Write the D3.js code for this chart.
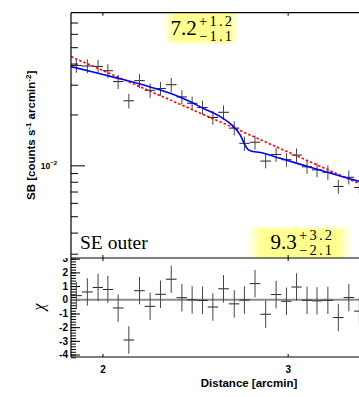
<!DOCTYPE html>
<html>
<head>
<meta charset="utf-8">
<script src="https://cdn.jsdelivr.net/npm/d3@7"></script>
<style>
  body { margin: 0; background: #fff; }
  svg { display: block; }
</style>
</head>
<body>
<div id="chart"></div>
<script>
// radial bins [arcmin]
const radius = [1.889, 1.935, 1.981, 2.024, 2.070, 2.119, 2.169, 2.220, 2.271, 2.325,
  2.380, 2.434, 2.490, 2.547, 2.607, 2.669, 2.729, 2.793, 2.859, 2.925,
  2.992, 3.059, 3.130, 3.199, 3.276, 3.352, 3.430, 3.510]

// surface brightness [counts s^-1 arcmin^-2] and 1 sigma errors
const sb = [0.0390, 0.0387, 0.0385, 0.0363, 0.0313, 0.0241, 0.0317, 0.0278, 0.0285, 0.0300,
  0.0254, 0.0233, 0.0220, 0.0192, 0.0206, 0.0166, 0.0135, 0.0137, 0.0106, 0.0116,
  0.0108, 0.0115, 0.0098, 0.0094, 0.0091, 0.0075, 0.0085, 0.0074]
const sbErr = [0.0037, 0.0037, 0.0036, 0.0034, 0.0030, 0.0024, 0.0030, 0.0027, 0.0027, 0.0029,
  0.0024, 0.0022, 0.0021, 0.0018, 0.0020, 0.0016, 0.0013, 0.0013, 0.0010, 0.0011,
  0.0010, 0.0011, 0.0009, 0.0009, 0.0009, 0.0007, 0.0008, 0.0007]

// residuals
const chi = [0.30, 0.57, 0.90, 0.75, -0.60, -2.94, 0.66, -0.48, 0.40, 1.50,
  0.15, -0.01, -0.05, -0.53, 0.80, -0.30, -0.02, 1.18, -1.06, 0.38,
  -0.11, 0.93, -0.04, -0.08, -0.04, -1.30, 0.16, -0.83]

// broken power law model (blue)
const modelR = [1.867, 1.968, 2.071, 2.220, 2.320, 2.424, 2.495, 2.589, 2.656, 2.705,
  2.728, 2.748, 2.764, 2.826, 2.952, 3.176, 3.518, 4.07]
const modelSB = [0.0384, 0.0354, 0.0327, 0.0291, 0.0267, 0.0238, 0.0217, 0.0194, 0.0173, 0.0151,
  0.0135, 0.0125, 0.0122, 0.0119, 0.0110, 0.0096, 0.0080, 0.0061]

// single power law (red dashed)
const plR = [1.867, 2.665, 4.07]
const plSB = [0.0440, 0.0167, 0.00516]

const xTicks = [2, 3]
const sbMajor = [0.01]
const sbMinor = [0.003, 0.004, 0.005, 0.006, 0.007, 0.008, 0.009, 0.02, 0.03, 0.04, 0.05, 0.06, 0.07]
const chiMajor = [-4, -3, -2, -1, 0, 1, 2, 3]
const chiMinor = d3.range(-42, 31, 2).map(d => d / 10)

const width = 359
const height = 397
const frame = { left: 71, right: 427, top: 12.7, mid: 258, bottom: 357 }

const sans = '"Liberation Sans", Arial, sans-serif'
const serif = '"Liberation Serif", "Times New Roman", serif'

const svg = d3
  .select('#chart')
  .append('svg')
  .attr('width', width)
  .attr('height', height)

const defs = svg.append('defs')
defs.append('clipPath').attr('id', 'clip-top')
  .append('rect').attr('x', frame.left).attr('y', frame.top)
  .attr('width', frame.right - frame.left).attr('height', frame.mid - frame.top)
defs.append('clipPath').attr('id', 'clip-bot')
  .append('rect').attr('x', frame.left).attr('y', frame.mid)
  .attr('width', frame.right - frame.left).attr('height', frame.bottom - frame.mid)

const glow = defs.append('linearGradient').attr('id', 'glow')
glow.append('stop').attr('offset', '0%').attr('stop-color', '#ffff90').attr('stop-opacity', 0)
glow.append('stop').attr('offset', '14%').attr('stop-color', '#ffff90').attr('stop-opacity', 1)
glow.append('stop').attr('offset', '86%').attr('stop-color', '#ffff90').attr('stop-opacity', 1)
glow.append('stop').attr('offset', '100%').attr('stop-color', '#ffff90').attr('stop-opacity', 0)
defs.append('filter').attr('id', 'soft')
  .append('feGaussianBlur').attr('stdDeviation', 1.5)

const x = d3.scaleLog().domain([1.867, 4.07]).range([frame.left, frame.right])
const y = d3.scaleLog().domain([0.00283, 0.08]).range([frame.mid, frame.top])
const yChi = d3.scaleLinear().domain([-4.18, 3.05]).range([frame.bottom, frame.mid])

const n = radius.length
const binLo = radius.map((r, i) => i > 0 ? Math.sqrt(r * radius[i - 1]) : r / Math.sqrt(radius[1] / r))
const binHi = radius.map((r, i) => i < n - 1 ? Math.sqrt(r * radius[i + 1]) : r * Math.sqrt(r / radius[n - 2]))

function styleAxis(g, size) {
  g.select('.domain').remove()
  g.selectAll('.tick line').attr('stroke', '#000').attr('stroke-width', 1)
  g.selectAll('.tick text')
    .attr('font-family', sans)
    .attr('font-weight', 'bold')
    .attr('font-size', size)
    .attr('fill', '#000')
}

// ---------- lower panel (residuals) ----------
const lower = svg.append('g')

lower.append('g')
  .attr('transform', 'translate(' + frame.left + ',0)')
  .call(d3.axisLeft(yChi).tickValues(chiMinor).tickSize(-5).tickFormat(''))
  .call(g => styleAxis(g, 10))

lower.append('g')
  .attr('transform', 'translate(' + frame.left + ',0)')
  .call(d3.axisLeft(yChi).tickValues(chiMajor).tickSizeInner(-9).tickSizeOuter(0).tickPadding(3).tickFormat(d => String(d)))
  .call(g => styleAxis(g, 10))

lower.append('g')
  .attr('transform', 'translate(0,' + frame.bottom + ')')
  .call(d3.axisBottom(x).tickValues(xTicks).tickSizeInner(-3).tickSizeOuter(0).tickPadding(9).tickFormat(d3.format('d')))
  .call(g => styleAxis(g, 10))

lower.append('g')
  .attr('transform', 'translate(0,' + frame.mid + ')')
  .call(d3.axisTop(x).tickValues(xTicks).tickSizeInner(-3).tickSizeOuter(0).tickFormat(''))
  .call(g => styleAxis(g, 10))

const lowerPlot = lower.append('g').attr('clip-path', 'url(#clip-bot)')

lowerPlot.append('line')
  .attr('x1', frame.left).attr('x2', frame.right)
  .attr('y1', yChi(0)).attr('y2', yChi(0))
  .attr('stroke', '#8c8c8c')
  .attr('stroke-width', 2)

const chiPts = lowerPlot.selectAll('.chi')
  .data(radius.map((r, i) => ({ r: r, lo: binLo[i], hi: binHi[i], v: chi[i] })))
  .enter()
  .append('g')
  .attr('class', 'chi')

chiPts.append('line')
  .attr('x1', d => x(d.lo)).attr('x2', d => x(d.hi))
  .attr('y1', d => yChi(d.v)).attr('y2', d => yChi(d.v))
  .attr('stroke', '#222').attr('stroke-width', 1)
chiPts.append('line')
  .attr('x1', d => x(d.r)).attr('x2', d => x(d.r))
  .attr('y1', d => yChi(d.v - 1)).attr('y2', d => yChi(d.v + 1))
  .attr('stroke', '#444').attr('stroke-width', 1)

lower.append('line')
  .attr('x1', frame.left).attr('x2', frame.right)
  .attr('y1', frame.bottom).attr('y2', frame.bottom)
  .attr('stroke', '#000').attr('stroke-width', 1.2)
lower.append('line')
  .attr('x1', frame.left).attr('x2', frame.left)
  .attr('y1', frame.mid).attr('y2', frame.bottom)
  .attr('stroke', '#000').attr('stroke-width', 1.2)

lower.append('text')
  .attr('transform', 'translate(44,307) rotate(-90)')
  .attr('text-anchor', 'middle')
  .attr('font-family', serif)
  .attr('font-style', 'italic')
  .attr('font-size', 16)
  .text('χ')

lower.append('text')
  .attr('x', (frame.left + frame.right) / 2)
  .attr('y', 387)
  .attr('text-anchor', 'middle')
  .attr('font-family', sans)
  .attr('font-weight', 'bold')
  .attr('font-size', 11.5)
  .text('Distance [arcmin]')

// ---------- upper panel (surface brightness) ----------
const upper = svg.append('g')

upper.append('rect')
  .attr('x', 0).attr('y', 0)
  .attr('width', width).attr('height', frame.mid)
  .attr('fill', '#fff')

const upperPlot = upper.append('g').attr('clip-path', 'url(#clip-top)')

upperPlot.append('rect')
  .attr('x', 164).attr('y', 8).attr('width', 76).attr('height', 35)
  .attr('fill', 'url(#glow)').attr('filter', 'url(#soft)')
upperPlot.append('rect')
  .attr('x', 247).attr('y', 228).attr('width', 106).attr('height', 34)
  .attr('fill', 'url(#glow)').attr('filter', 'url(#soft)')

upper.append('g')
  .attr('transform', 'translate(' + frame.left + ',0)')
  .call(d3.axisLeft(y).tickValues(sbMinor).tickSize(-7).tickFormat(''))
  .call(g => styleAxis(g, 8.5))

upper.append('g')
  .attr('transform', 'translate(' + frame.left + ',0)')
  .call(d3.axisLeft(y).tickValues(sbMajor).tickSizeInner(-14).tickSizeOuter(0).tickPadding(14).tickFormat(''))
  .call(g => styleAxis(g, 8.5))
  .call(g => {
    const t = g.selectAll('.tick text')
    t.append('tspan').text('10')
    t.append('tspan').attr('dy', -4).attr('font-size', 6).text('−2')
  })

upper.append('g')
  .attr('transform', 'translate(0,' + frame.top + ')')
  .call(d3.axisTop(x).tickValues(xTicks).tickSizeInner(-3).tickSizeOuter(0).tickFormat(''))
  .call(g => styleAxis(g, 10))

upper.append('g')
  .attr('transform', 'translate(0,' + frame.mid + ')')
  .call(d3.axisBottom(x).tickValues(xTicks).tickSizeInner(-3).tickSizeOuter(0).tickFormat(''))
  .call(g => styleAxis(g, 10))

const sbPts = upperPlot.selectAll('.sb')
  .data(radius.map((r, i) => ({ r: r, lo: binLo[i], hi: binHi[i], v: sb[i], e: sbErr[i] })))
  .enter()
  .append('g')
  .attr('class', 'sb')

sbPts.append('line')
  .attr('x1', d => x(d.lo)).attr('x2', d => x(d.hi))
  .attr('y1', d => y(d.v)).attr('y2', d => y(d.v))
  .attr('stroke', '#222').attr('stroke-width', 1)
sbPts.append('line')
  .attr('x1', d => x(d.r)).attr('x2', d => x(d.r))
  .attr('y1', d => y(d.v - d.e)).attr('y2', d => y(d.v + d.e))
  .attr('stroke', '#444').attr('stroke-width', 1)

const line = d3.line()
  .x(d => x(d[0]))
  .y(d => y(d[1]))

upperPlot.append('path')
  .datum(plR.map((r, i) => [r, plSB[i]]))
  .attr('d', line)
  .attr('fill', 'none')
  .attr('stroke', '#ff0000')
  .attr('stroke-width', 1.6)
  .attr('stroke-dasharray', '2.5,2')

upperPlot.append('path')
  .datum(modelR.map((r, i) => [r, modelSB[i]]))
  .attr('d', line.curve(d3.curveMonotoneX))
  .attr('fill', 'none')
  .attr('stroke', '#0000ff')
  .attr('stroke-width', 1.6)

upper.append('line')
  .attr('x1', frame.left).attr('x2', frame.right)
  .attr('y1', frame.top).attr('y2', frame.top)
  .attr('stroke', '#000').attr('stroke-width', 1.2)
upper.append('line')
  .attr('x1', frame.left).attr('x2', frame.right)
  .attr('y1', frame.mid).attr('y2', frame.mid)
  .attr('stroke', '#000').attr('stroke-width', 1.2)
upper.append('line')
  .attr('x1', frame.left).attr('x2', frame.left)
  .attr('y1', frame.top).attr('y2', frame.mid)
  .attr('stroke', '#000').attr('stroke-width', 1.2)

// annotations
function valueLabel(g, x0, base, main, up, down) {
  g.append('text')
    .attr('x', x0).attr('y', base)
    .attr('font-family', serif).attr('font-size', 21)
    .text(main)
  const sx = x0 + 28.5
  g.append('text')
    .attr('x', sx).attr('y', base - 9)
    .attr('font-family', serif).attr('font-size', 14.5)
    .attr('textLength', 33).attr('lengthAdjust', 'spacing')
    .text(up)
  g.append('text')
    .attr('x', sx).attr('y', base + 5.5)
    .attr('font-family', serif).attr('font-size', 14.5)
    .attr('textLength', 33).attr('lengthAdjust', 'spacing')
    .text(down)
}

valueLabel(upper, 170.5, 35, '7.2', '+1.2', '−1.1')
valueLabel(upper, 270.5, 249, '9.3', '+3.2', '−2.1')

upper.append('text')
  .attr('x', 80).attr('y', 249)
  .attr('font-family', serif)
  .attr('font-size', 19.5)
  .text('SE outer')

const sbTitle = upper.append('text')
  .attr('transform', 'translate(35,' + (frame.top + frame.mid) / 2 + ') rotate(-90)')
  .attr('text-anchor', 'middle')
  .attr('font-family', sans)
  .attr('font-weight', 'bold')
  .attr('font-size', 11.5)
sbTitle.append('tspan').text('SB [counts s')
sbTitle.append('tspan').attr('dy', -4.5).attr('font-size', 8).text('-1')
sbTitle.append('tspan').attr('dy', 4.5).text(' arcmin')
sbTitle.append('tspan').attr('dy', -4.5).attr('font-size', 8).text('-2')
sbTitle.append('tspan').attr('dy', 4.5).text(']')
</script>
</body>
</html>
